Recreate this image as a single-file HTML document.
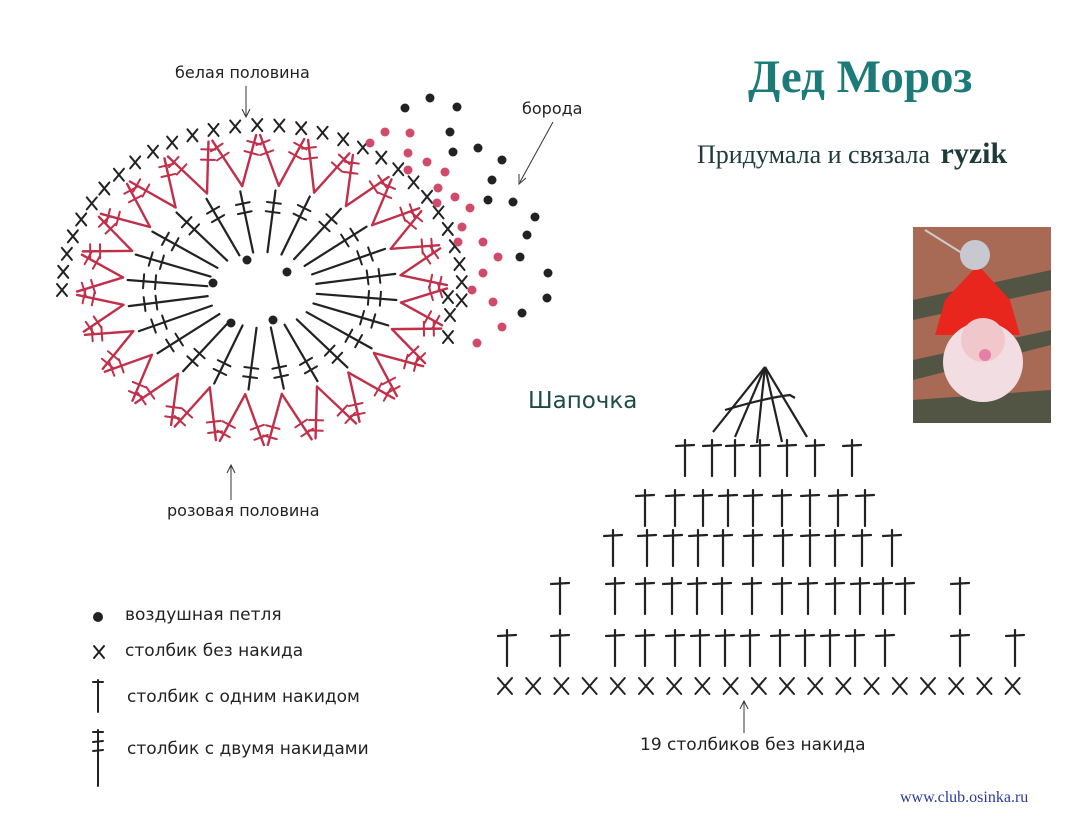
<!DOCTYPE html>
<html><head><meta charset="utf-8"><style>
html,body{margin:0;padding:0;background:#fff}
#w{position:relative;width:1091px;height:836px;overflow:hidden;font-family:"DejaVu Sans","Liberation Sans",sans-serif}
.t{position:absolute;white-space:nowrap}
.s{font-size:16px;color:#222}
.l{font-size:17px;color:#222}
</style></head><body><div id="w">
<svg id="s" width="1091" height="836" style="position:absolute;left:0;top:0" xmlns="http://www.w3.org/2000/svg">
<defs>
<g id="dc" stroke="#222" stroke-width="2.2" fill="none" stroke-linecap="round"><line x1="0" y1="0" x2="0" y2="36"/><line x1="-9" y1="6" x2="9" y2="5"/></g>
<g id="xx" stroke="#222" stroke-width="2" fill="none" stroke-linecap="round"><line x1="-7" y1="-8" x2="7" y2="8"/><line x1="7" y1="-8" x2="-7" y2="8"/></g>
<g id="xs" stroke="#222" stroke-width="2" fill="none" stroke-linecap="round"><line x1="-5" y1="-6" x2="5" y2="6"/><line x1="5" y1="-6" x2="-5" y2="6"/></g>
</defs>
<g id="oval"></g>
<g stroke="#222" stroke-width="2.2" fill="none">
<line x1="765" y1="367" x2="713" y2="432"/><line x1="765" y1="367" x2="735" y2="437"/><line x1="765" y1="367" x2="757" y2="443"/><line x1="765" y1="367" x2="782" y2="442"/><line x1="765" y1="367" x2="807" y2="437"/>
<path d="M725 410 Q765 398 790 395 L795 398"/>
</g>
<g id="hat"></g>
<g stroke="#333" stroke-width="1" fill="none">
<line x1="246" y1="86" x2="246" y2="116"/><path d="M242 109 L246 117 L250 109"/>
<line x1="553" y1="122" x2="520" y2="182"/><path d="M519 174 L519 184 L526 178"/>
<line x1="231" y1="500" x2="231" y2="466"/><path d="M227 473 L231 465 L235 473"/>
<line x1="744" y1="733" x2="744" y2="702"/><path d="M740 709 L744 701 L748 709"/>
</g>
<circle cx="98" cy="617" r="5" fill="#222"/>
<use href="#xs" x="99" y="652"/>
<g stroke="#222" stroke-width="2" stroke-linecap="round"><line x1="98" y1="680" x2="98" y2="712"/><line x1="93" y1="682" x2="103" y2="682"/>
<line x1="98" y1="730" x2="98" y2="786"/><line x1="93" y1="732" x2="103" y2="732"/><line x1="93" y1="742" x2="103" y2="741"/><line x1="93" y1="751" x2="103" y2="750"/></g>
<g>
<rect x="913" y="227" width="138" height="196" fill="#a86a55"/>
<path d="M913 300 L1051 270 L1051 290 L913 320Z M913 360 L1051 330 L1051 345 L913 380Z M913 400 L1051 390 L1051 423 L913 423Z" fill="#3c5040" opacity=".8"/>
<line x1="925" y1="230" x2="965" y2="255" stroke="#ccc" stroke-width="2"/>
<polygon points="978,265 945,300 935,335 1020,335 1010,300" fill="#e8261e"/>
<circle cx="975" cy="255" r="15" fill="#c8c8d0"/>
<circle cx="983" cy="362" r="40" fill="#f2dde2"/>
<circle cx="983" cy="340" r="22" fill="#f0c8cc"/>
<circle cx="985" cy="355" r="6" fill="#e47fa6"/>
</g>
</svg>
<div class="t" style="left:748px;top:50px;font-family:'Liberation Serif',serif;font-weight:bold;font-size:47px;color:#1c7a78">Дед Мороз</div>
<div class="t" style="left:697px;top:137px;font-family:'Liberation Serif',serif;font-size:26px;color:#1f3a3a">Придумала и связала <b style="font-size:30px;margin-left:4px">ryzik</b></div>
<div class="t s" style="left:175px;top:63px">белая половина</div>
<div class="t s" style="left:522px;top:99px">борода</div>
<div class="t s" style="left:167px;top:501px">розовая половина</div>
<div class="t" style="left:528px;top:388px;font-size:23px;color:#1b4a48">Шапочка</div>
<div class="t l" style="left:640px;top:735px">19 столбиков без накида</div>
<div class="t l" style="left:125px;top:605px">воздушная петля</div>
<div class="t l" style="left:125px;top:641px">столбик без накида</div>
<div class="t l" style="left:127px;top:687px">столбик с одним накидом</div>
<div class="t l" style="left:127px;top:739px">столбик с двумя накидами</div>
<div class="t" style="left:900px;top:789px;font-family:'Liberation Serif',serif;font-size:16px;color:#2a3a9a">www.club.osinka.ru</div>
</div>
<script>
var NS="http://www.w3.org/2000/svg";
function el(p,n,a){var e=document.createElementNS(NS,n);for(var k in a)e.setAttribute(k,a[k]);p.appendChild(e);return e;}
var hat=document.getElementById('hat');
function dc(x,y){var u=el(hat,'use',{x:x,y:y});u.setAttribute('href','#dc');}
function xx(p,x,y,id){var u=el(p,'use',{x:x,y:y});u.setAttribute('href',id||'#xx');}
for(var i=0;i<19;i++)xx(hat,505+i*28.2,686);
[507,560,615,645,675,700,725,750,780,805,830,855,885,960,1015].forEach(function(x){dc(x,630)});
[560,615,645,672,697,722,752,782,808,835,860,883,905,960].forEach(function(x){dc(x,578)});
[613,647,673,698,723,753,783,810,835,862,892].forEach(function(x){dc(x,530)});
[645,675,703,728,753,782,810,838,865].forEach(function(x){dc(x,490)});
[685,712,735,760,787,815,852].forEach(function(x){dc(x,440)});
var ov=document.getElementById('oval');
var cx=262,cy=290;
function pt(a,rx,ry){return [cx+rx*Math.cos(a),cy+ry*Math.sin(a)];}
function ln(p,a,b,c,w){el(p,'line',{x1:a[0],y1:a[1],x2:b[0],y2:b[1],stroke:c,'stroke-width':w,'stroke-linecap':'round'});}
function bars(p,a,b,ts,c,len){var dx=b[0]-a[0],dy=b[1]-a[1],L=Math.hypot(dx,dy),nx=-dy/L,ny=dx/L;ts.forEach(function(t){var m=[a[0]+dx*t,a[1]+dy*t];ln(p,[m[0]-nx*len,m[1]-ny*len],[m[0]+nx*len,m[1]+ny*len],c,2);});}
for(var k=0;k<24;k++){var a=k*Math.PI/12+0.1;
 var A=pt(a,55,38),B=pt(a,135,100);ln(ov,A,B,'#222',2.2);bars(ov,A,B,[0.65,0.8],'#222',7);
 var C=pt(a+0.02,140,105),D1=pt(a-0.11,185,155),D2=pt(a+0.13,185,155);
 var col='#c0304a';ln(ov,C,D1,col,2.4);ln(ov,C,D2,col,2.4);bars(ov,C,D1,[0.65,0.85],col,7);bars(ov,C,D2,[0.65,0.85],col,7);
}
for(var k=0;k<30;k++){var a=Math.PI*1.0+k*Math.PI*1.02/29;var P=pt(a,200,165);xx(ov,P[0],P[1],'#xs');}
[[448,297],[450,315],[448,337]].forEach(function(p){xx(ov,p[0],p[1],'#xs')});
[[385,132],[410,133],[370,143],[408,153],[427,162],[408,170],[445,172],[438,188],[455,197],[437,203],[470,208],[462,227],[458,242],[483,242],[498,257],[483,273],[472,290],[493,302],[502,327],[477,343]].forEach(function(p){el(ov,'circle',{cx:p[0],cy:p[1],r:4.5,fill:'#d04a6a'})});
[[405,108],[430,98],[457,107],[450,132],[453,152],[478,148],[502,160],[492,180],[488,200],[513,202],[535,217],[527,235],[520,257],[548,273],[547,298],[522,313],[247,260],[213,283],[287,272],[231,323],[273,320]].forEach(function(p){el(ov,'circle',{cx:p[0],cy:p[1],r:4.5,fill:'#222'})});
</script>
</body></html>
